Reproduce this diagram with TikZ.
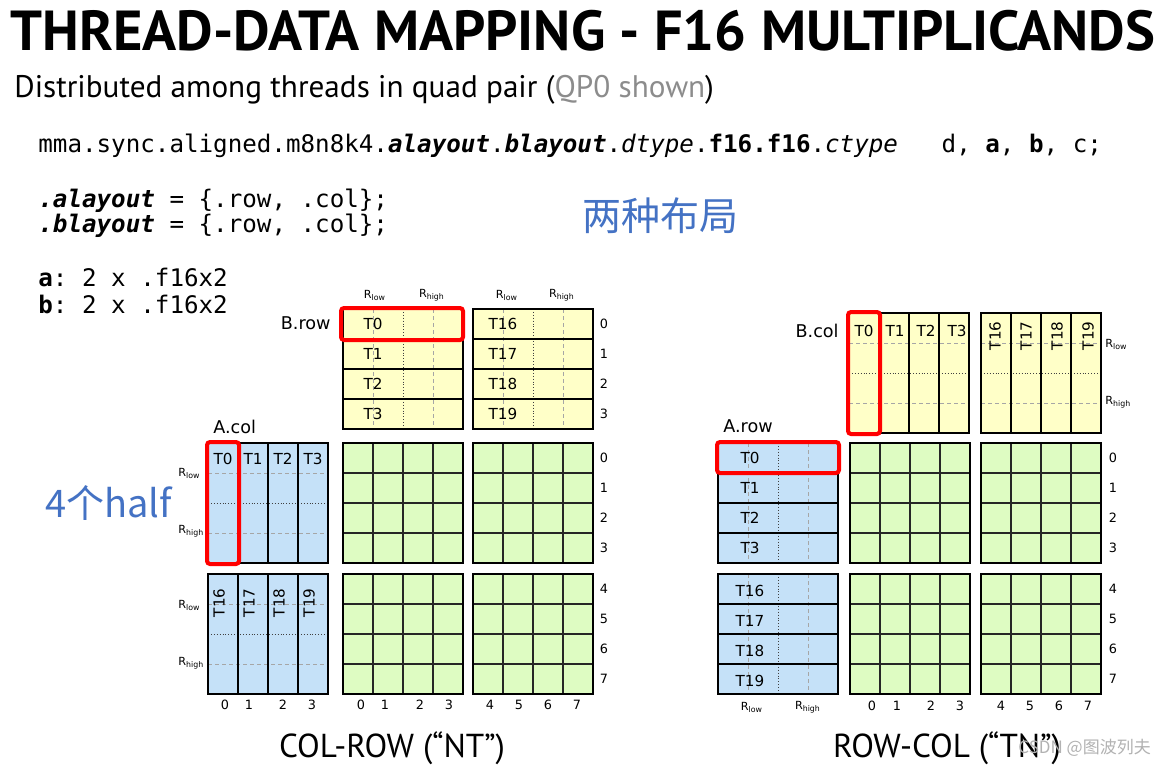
\documentclass[tikz,border=0pt]{standalone}
\usepackage{fontspec}
\setmainfont{PT Sans}
\setmonofont{DejaVu Sans Mono}
\newfontfamily\cellfont{DejaVu Sans}
\newfontfamily\cjkfont{Noto Sans CJK SC}
\definecolor{CellYellow}{RGB}{255,255,200}
\definecolor{CellBlue}{RGB}{197,225,248}
\definecolor{CellGreen}{RGB}{222,252,194}
\definecolor{NoteBlue}{RGB}{68,114,196}
\definecolor{MarkRed}{RGB}{255,0,0}

\begin{document}
\begin{tikzpicture}[x=0.5pt, y=-0.5pt,
	blk/.style={line width=1.3pt, black},
	sep/.style={line width=1.2pt, black},
	thingrid/.style={line width=0.55pt, black!85},
	quarter/.style={dash pattern=on 2pt off 1.5pt, line width=0.35pt, black!35},
	halfline/.style={densely dotted, line width=0.45pt, black!75},
	redbox/.style={draw=MarkRed, line width=2pt, rounded corners=1.5pt},
	tl/.style={font=\cellfont\fontsize{7.6}{9}\selectfont, inner sep=0pt},
	idx/.style={font=\cellfont\fontsize{6.4}{8}\selectfont, inner sep=0pt},
	reg/.style={font=\cellfont\fontsize{5.6}{7}\selectfont, inner sep=0pt},
	mat/.style={font=\cellfont\fontsize{8.8}{10}\selectfont, inner sep=0pt},
	code/.style={font=\ttfamily\fontsize{12.1}{14}\selectfont, anchor=base west, inner sep=0pt}]
	\fill[white] (0,0) rectangle (1164,767);
	
	% 标题与代码
	\node[anchor=base west, inner sep=0pt, font=\bfseries\fontsize{28.2}{30}\selectfont] (title) at (10,50) {THREAD-DATA MAPPING - F16 MULTIPLICANDS};
	\node[anchor=base west, inner sep=0pt, font=\fontsize{15.6}{18}\selectfont] (sub) at (14,97) {Distributed among threads in quad pair ({\color{black!45}QP0 shown})};
	\node[code] (mma) at (38,152) {mma.sync.aligned.m8n8k4.\textbf{\textit{alayout}}.\textbf{\textit{blayout}}.\textit{dtype}.\textbf{f16.f16}.\textit{ctype}\ \ \ d, \textbf{a}, \textbf{b}, c;};
	\node[code] (alay) at (38,207) {\textbf{\textit{.alayout}} = \{.row, .col\};};
	\node[code] (blay) at (38,232) {\textbf{\textit{.blayout}} = \{.row, .col\};};
	\node[code] (afmt) at (38,286) {\textbf{a}: 2 x .f16x2};
	\node[code] (bfmt) at (38,313) {\textbf{b}: 2 x .f16x2};
	\node[text=NoteBlue, inner sep=0pt, font=\cjkfont\fontsize{19.5}{22}\selectfont] (twolay) at (660,216) {两种布局};
	\node[anchor=base west, text=NoteBlue, inner sep=0pt, font=\cjkfont\fontsize{19}{22}\selectfont] (half) at (45,517) {4个half};
	
	% C 矩阵（绿色）
	\foreach \gx/\gy in {343/443, 473/443, 343/574, 473/574, 850/443, 981/443, 850/574, 981/574} {
		\fill[CellGreen] (\gx,\gy) rectangle ++(120,120);
		\foreach \k in {30,60,90} {
			\draw[thingrid] (\gx+\k,\gy) -- ++(0,120);
			\draw[thingrid] (\gx,\gy+\k) -- ++(120,0);
		}
		\draw[blk] (\gx,\gy) rectangle ++(120,120);
	}
	
	% 左：A.col 与 B.row
	\foreach \by in {443,574} {
		\fill[CellBlue] (208,\by) rectangle ++(120,120);
		\draw[quarter] (208,\by+30) -- ++(120,0) (208,\by+90) -- ++(120,0);
		\draw[halfline] (208,\by+60) -- ++(120,0);
		\draw[sep] (238,\by) -- ++(0,120) (268,\by) -- ++(0,120) (298,\by) -- ++(0,120);
		\draw[blk] (208,\by) rectangle ++(120,120);
	}
	\foreach \bx in {343,473} {
		\fill[CellYellow] (\bx,309) rectangle ++(120,120);
		\draw[quarter] (\bx+30,309) -- ++(0,120) (\bx+90,309) -- ++(0,120);
		\draw[halfline] (\bx+60,309) -- ++(0,120);
		\draw[sep] (\bx,339) -- ++(120,0) (\bx,369) -- ++(120,0) (\bx,399) -- ++(120,0);
		\draw[blk] (\bx,309) rectangle ++(120,120);
	}
	
	% 右：A.row 与 B.col
	\foreach \by in {443,574} {
		\fill[CellBlue] (718,\by) rectangle ++(120,120);
		\draw[quarter] (748,\by) -- ++(0,120) (808,\by) -- ++(0,120);
		\draw[halfline] (778,\by) -- ++(0,120);
		\draw[sep] (718,\by+30) -- ++(120,0) (718,\by+60) -- ++(120,0) (718,\by+90) -- ++(120,0);
		\draw[blk] (718,\by) rectangle ++(120,120);
	}
	\foreach \bx in {849,981} {
		\fill[CellYellow] (\bx,313) rectangle ++(120,120);
		\draw[quarter] (\bx,343) -- ++(120,0) (\bx,403) -- ++(120,0);
		\draw[halfline] (\bx,373) -- ++(120,0);
		\draw[sep] (\bx+30,313) -- ++(0,120) (\bx+60,313) -- ++(0,120) (\bx+90,313) -- ++(0,120);
		\draw[blk] (\bx,313) rectangle ++(120,120);
	}
	
	% 线程标签
	\foreach \t [count=\i] in {0,1,2,3} {
		\node[tl] (brT\t) at (373,294+30*\i) {T\t};
		\node[tl] (acT\t) at (193+30*\i,459) {T\t};
		\node[tl] (bcT\t) at (833+31*\i,331) {T\t};
		\node[tl] (arT\t) at (750,428+30*\i) {T\t};
	}
	\foreach \t [count=\i] in {16,17,18,19} {
		\node[tl] (brT\t) at (503,294+30*\i) {T\t};
		\node[tl, rotate=90, anchor=east] (acT\t) at (189+30*\i,588) {T\t};
		\node[tl, rotate=90, anchor=east] (bcT\t) at (964+31*\i,321) {T\t};
		\node[tl] (arT\t) at (750,561+30*\i) {T\t};
	}
	
	% 寄存器标签
	\node[reg] (rl1) at (375,295) {R\textsubscript{low}};
	\node[reg] (rh1) at (432,295) {R\textsubscript{high}};
	\node[reg] (rl2) at (507,295) {R\textsubscript{low}};
	\node[reg] (rh2) at (562,295) {R\textsubscript{high}};
	\node[reg, anchor=west] (rl3) at (178,473) {R\textsubscript{low}};
	\node[reg, anchor=west] (rh3) at (178,531) {R\textsubscript{high}};
	\node[reg, anchor=west] (rl4) at (178,605) {R\textsubscript{low}};
	\node[reg, anchor=west] (rh4) at (178,663) {R\textsubscript{high}};
	\node[reg, anchor=west] (rl5) at (1105,344) {R\textsubscript{low}};
	\node[reg, anchor=west] (rh5) at (1105,402) {R\textsubscript{high}};
	\node[reg] (rl6) at (752,707) {R\textsubscript{low}};
	\node[reg] (rh6) at (808,707) {R\textsubscript{high}};
	
	% 行列编号
	\foreach \r [count=\i] in {0,1,2,3} {
		\node[idx] (brn\r) at (604,294+30*\i) {\r};
		\node[idx] (lrn\r) at (604,428+30*\i) {\r};
		\node[idx] (rrn\r) at (1113,428+30*\i) {\r};
	}
	\foreach \r [count=\i] in {4,5,6,7} {
		\node[idx] (lrn\r) at (604,559+30*\i) {\r};
		\node[idx] (rrn\r) at (1113,559+30*\i) {\r};
	}
	\foreach \c/\cx in {0/225,1/249,2/283,3/312} {
		\node[idx] (acn\c) at (\cx,705) {\c};
	}
	\foreach \c/\cx in {0/361,1/385,2/420,3/449,4/490,5/519,6/548,7/577} {
		\node[idx] (lcn\c) at (\cx,705) {\c};
	}
	\foreach \c/\cx in {0/872,1/897,2/931,3/960,4/1001,5/1030,6/1059,7/1088} {
		\node[idx] (rcn\c) at (\cx,706) {\c};
	}
	
	% 矩阵名
	\node[mat, anchor=base east] (brow) at (331,329) {B.row};
	\node[mat, anchor=base west] (acol) at (213,433) {A.col};
	\node[mat, anchor=base east] (bcol) at (839,337) {B.col};
	\node[mat, anchor=base west] (arow) at (723,432) {A.row};
	
	% 红框：T0
	\draw[redbox] (341,308) rectangle (463,340);
	\draw[redbox] (207,442) rectangle (239,564);
	\draw[redbox] (848,312) rectangle (880,434);
	\draw[redbox] (717,442) rectangle (839,473);
	
	\node[anchor=base, inner sep=0pt, font=\fontsize{16.6}{18}\selectfont] (nt) at (392,757) {COL-ROW (“NT”)};
	\node[anchor=base, inner sep=0pt, font=\fontsize{16.6}{18}\selectfont] (tn) at (947,757) {ROW-COL (“TN”)};
	\node[anchor=base west, inner sep=0pt, text=black!30, font=\cjkfont\fontsize{8.5}{10}\selectfont] (wm) at (1018,753) {CSDN @图波列夫};
\end{tikzpicture}
\end{document}
